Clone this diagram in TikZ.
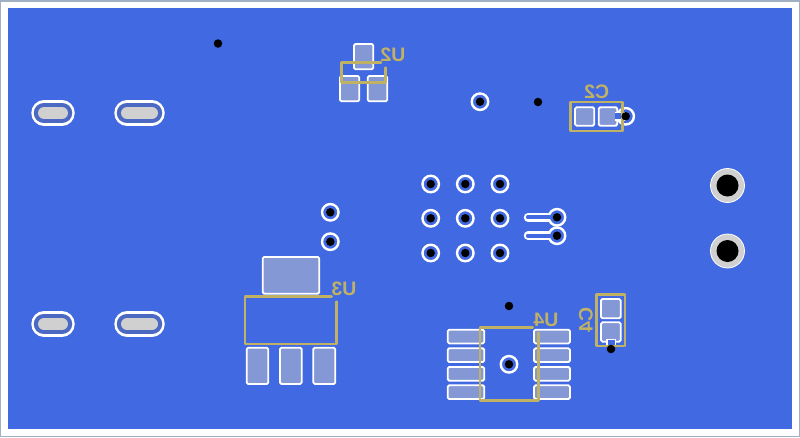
\documentclass[tikz,border=0pt]{standalone}
\usepackage{fontspec}
\setmainfont{Liberation Sans}
\definecolor{cu}{RGB}{65,105,225}
\definecolor{padc}{RGB}{132,152,214}
\definecolor{silk}{RGB}{192,178,100}
\definecolor{rim}{RGB}{160,175,195}
\definecolor{slotc}{RGB}{75,105,195}
\definecolor{drillc}{RGB}{208,208,208}
\tikzset{
  padbox/.style={draw=white,fill=padc,line width=1.8,rounded corners=1.5},
  silkline/.style={draw=silk,line width=2.8,line cap=round,line join=round},
  silktext/.style={text=silk,font=\bfseries\fontsize{19.5}{20}\selectfont,inner sep=0,xscale=-1},
  drillpt/.style={circle,fill=black,draw=none,minimum size=8.5,inner sep=0},
  viaring/.style={circle,fill=cu,draw=white,line width=2.4,minimum size=16.5,inner sep=0},
  slotout/.style={line width=25.5,draw=white,line cap=round},
  slotmid/.style={line width=20.5,draw=slotc,line cap=round},
  slotin/.style={line width=12,draw=drillc,line cap=round},
  holeout/.style={circle,fill=drillc,draw=white,line width=.8,minimum size=34,inner sep=0},
  holein/.style={circle,fill=black,minimum size=22,inner sep=0}
}
\begin{document}
\begin{tikzpicture}[x=1pt,y=-1pt]
\useasboundingbox (0,0) rectangle (800,437);
\fill[rim] (0,0) rectangle (800,437);
\fill[white] (1,1.5) rectangle (799,435.5);
\fill[cu] (7.5,7.5) rectangle (792,429);
% slots
\foreach \y in {113,324}{
  \foreach \a/\b in {44/62,127/152}{
    \draw[slotout] (\a,\y) -- (\b,\y);
    \draw[slotmid] (\a,\y) -- (\b,\y);
    \draw[slotin] (\a,\y) -- (\b,\y);
  }
}
% large holes
\foreach \n/\y in {1/185.5,2/251}{
  \node[holeout] (h\n) at (727.5,\y) {};
  \node[holein] at (h\n.center) {};
}
% traces
\draw[white,line width=8.5,line cap=round] (528,217.3) -- (557,217.3);
\draw[white,line width=8.5,line cap=round] (528,235.7) -- (557,235.7);
% vias
\foreach \n/\x/\y in {a/480/101.7,b/625.7/116.3,c/430.7/184,d/465.3/184,e/500/184,f/430.7/218.3,g/465.3/218.3,h/500/218.3,i/430.7/253,j/465.3/253,k/500/253,l/557/217.3,m/557/235.7,n/330.3/212.3,o/330.3/241.7,p/509/364.3}{
  \node[viaring] (v\n) at (\x,\y) {};
}
\draw[cu,line width=4.2,line cap=round] (528,217.3) -- (vl.center);
\draw[cu,line width=4.2,line cap=round] (528,235.7) -- (vm.center);
% pads U2
\draw[padbox] (354,44) rectangle (373.3,69.3);
\draw[padbox] (340,76) rectangle (359.3,101.3);
\draw[padbox] (367.7,76) rectangle (387.3,101.3);
% pads C2
\draw[padbox] (575,107.3) rectangle (594.3,125.7);
\draw[padbox] (598.7,107.3) rectangle (617.3,125.7);
\draw[white,line width=8.5] (614.5,116.3) -- (vb.center);
\draw[cu,line width=6] (615,116.3) -- (vb.center);
% pads U3
\draw[padbox] (262.7,257) rectangle (319.3,293.7);
\draw[padbox] (246.7,347.7) rectangle (268.3,384);
\draw[padbox] (280,347.7) rectangle (301.7,384);
\draw[padbox] (313.3,347.7) rectangle (335.3,384);
% pads U4
\foreach \y in {329.7,348.3,367,385.3}{
  \draw[padbox] (447.7,\y) rectangle (484.3,\y+13.7);
  \draw[padbox] (534,\y) rectangle (570,\y+13.7);
}
% pads C4
\draw[padbox] (601,299) rectangle (620.7,318.3);
\draw[padbox] (601,322.3) rectangle (620.7,341.7);
\draw[white,line width=9.5] (611,338.5) -- (611,345);
\draw[cu,line width=7] (611,339.5) -- (611,345);
% silkscreen
\draw[silkline] (381,62.3) -- (341.5,62.3) -- (341.5,82.7) -- (385.5,82.7) -- (385.5,67.7);
\draw[silkline] (570.3,102) rectangle (622.3,131);
\draw[silkline] (331.7,296.3) -- (245,296.3) -- (245,344) -- (336.7,344) -- (336.7,301.7);
\draw[silkline] (532.7,327.3) -- (480,327.3) -- (480,400.7) -- (538.3,400.7) -- (538.3,332.7);
\draw[silkline] (596.7,294.3) rectangle (625,346);
\node[silktext] (tu2) at (393,55) {U2};
\node[silktext] (tc2) at (596.7,91.7) {C2};
\node[silktext] (tu3) at (344,289) {U3};
\node[silktext] (tu4) at (546,320) {U4};
\node[silktext,xscale=-1,rotate=-90,yscale=-1] (tc4) at (586,320) {C4};
% drill points
\foreach \n/\x/\y in {a/480/101.7,b/625.7/116.3,c/430.7/184,d/465.3/184,e/500/184,f/430.7/218.3,g/465.3/218.3,h/500/218.3,i/430.7/253,j/465.3/253,k/500/253,l/557/217.3,m/557/235.7,n/330.3/212.3,o/330.3/241.7,p/509/364.3,q/218/43.5,r/538/102,s/509/306,t/611/349}{
  \node[drillpt] (d\n) at (\x,\y) {};
}
\end{tikzpicture}
\end{document}
